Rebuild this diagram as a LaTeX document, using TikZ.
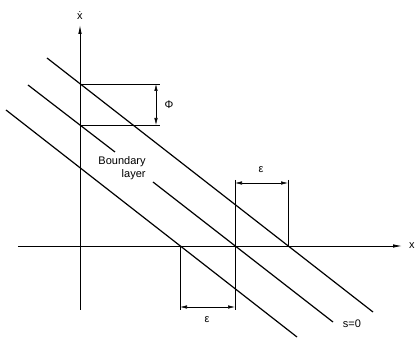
\documentclass[tikz,border=0pt]{standalone}
\usepackage{fontspec}
\setmainfont{Liberation Sans}
\usepackage{tikz}
\usetikzlibrary{arrows.meta}

\begin{document}
\begin{tikzpicture}[
    x=1pt, y=1pt,
    axis/.style={line width=0.8pt, -{Latex[length=9pt, width=3.5pt]}},
    surf/.style={line width=1.2pt},
    guide/.style={line width=0.6pt},
    dim/.style={line width=0.6pt, {Latex[length=7pt, width=3.5pt]}-{Latex[length=7pt, width=3.5pt]}},
    lbl/.style={font=\fontsize{11}{13}\selectfont, inner sep=1pt}
]
  \useasboundingbox (-80,-93) rectangle (335,246);

  % axes
  \coordinate (xl) at (-62,0);
  \coordinate (xr) at (322,0);
  \coordinate (yb) at (0,-64);
  \coordinate (yt) at (0,221);
  \draw[axis] (xl) -- (xr);
  \draw[axis] (yb) -- (yt);
  \node[lbl, anchor=west] (xlab) at (328,0) {x};
  \node[lbl, anchor=south] (ylab) at (0,225) {\.{x}};

  % switching line and boundary layer
  \coordinate (up1) at (-33,188);
  \coordinate (up2) at (293,-66);
  \coordinate (mid1) at (-52,161);
  \coordinate (mid2) at (35,94);
  \coordinate (mid3) at (73,64);
  \coordinate (mid4) at (253,-76);
  \coordinate (lo1) at (-74,136);
  \coordinate (lo2) at (217,-91);
  \draw[surf] (up1) -- (up2);
  \draw[surf] (mid1) -- (mid2);
  \draw[surf] (mid3) -- (mid4);
  \draw[surf] (lo1) -- (lo2);
  \node[lbl, align=right] (blayer) at (42,78) {Boundary\\layer};
  \node[lbl] (s0) at (272,-78) {s=0};

  % thickness phi
  \coordinate (pa) at (0,162);
  \coordinate (pb) at (0,121);
  \coordinate (pa2) at (80,162);
  \coordinate (pb2) at (80,121);
  \coordinate (pat) at (76,162);
  \coordinate (pbt) at (76,121);
  \draw[guide] (pa) -- (pa2);
  \draw[guide] (pb) -- (pb2);
  \draw[dim] (pat) -- (pbt);
  \node[lbl] (phi) at (89,141) {Φ};

  % width epsilon
  \coordinate (e1) at (155,66);
  \coordinate (e1b) at (155,-64);
  \coordinate (e2) at (208,66);
  \coordinate (e2b) at (208,0);
  \coordinate (e3) at (100,0);
  \coordinate (e3b) at (100,-64);
  \draw[guide] (e1) -- (e1b);
  \draw[guide] (e2) -- (e2b);
  \draw[guide] (e3) -- (e3b);
  \coordinate (ea) at (155,63);
  \coordinate (eb) at (208,63);
  \coordinate (ec) at (100,-61);
  \coordinate (ed) at (155,-61);
  \draw[dim] (ea) -- (eb);
  \draw[dim] (ec) -- (ed);
  \node[lbl] (epsup) at (181,76) {ε};
  \node[lbl] (epslo) at (127,-74) {ε};
\end{tikzpicture}
\end{document}
